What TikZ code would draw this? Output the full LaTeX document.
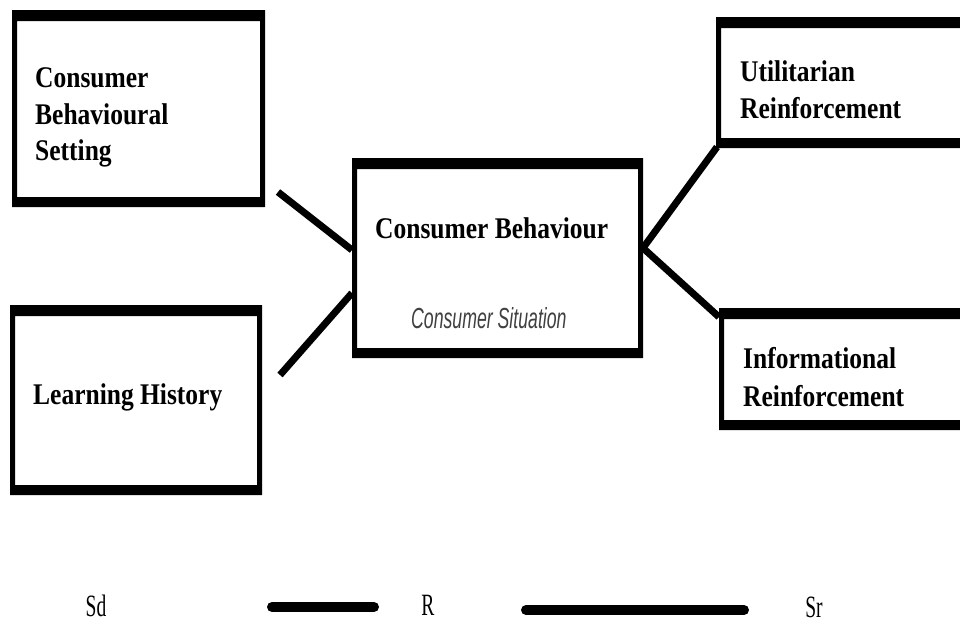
\documentclass[tikz,border=0pt]{standalone}
\usepackage{fontspec}
\setmainfont{Liberation Serif}
\newfontfamily\boldf[FakeStretch=0.85]{Liberation Serif}
\newfontfamily\sitf[FakeStretch=0.61]{Liberation Sans}
\newfontfamily\condf[FakeStretch=0.63]{Liberation Serif}
\definecolor{sitgray}{HTML}{404040}
\tikzset{
  box/.style={inner sep=0pt, outer sep=0pt},
  lbl/.style={inner sep=0pt, anchor=base west, font=\boldf\bfseries\fontsize{30}{36}\selectfont, align=left},
  conn/.style={line width=7pt},
  barline/.style={line width=10pt, line cap=round},
  small/.style={inner sep=0pt, anchor=base, text depth=0pt, font=\condf\fontsize{31}{33}\selectfont}
}
\begin{document}
\begin{tikzpicture}[x=1pt,y=-1pt]
\useasboundingbox (0,0) rectangle (960,622);
\clip (0,0) rectangle (960,622);
\fill[white] (0,0) rectangle (960,622);
% boxes
\node[box, minimum width=253pt, minimum height=197pt] (cbs) at (138.5,108.5) {};
\node[box, minimum width=252pt, minimum height=190pt] (lh) at (136,400) {};
\node[box, minimum width=291pt, minimum height=200pt] (cb) at (497.5,258) {};
\node[box, minimum width=290pt, minimum height=131pt] (ur) at (861,82.5) {};
\node[box, minimum width=290pt, minimum height=122pt] (ir) at (864,369) {};
\foreach \n in {cbs,lh,cb,ur,ir}
  \fill[black, even odd rule] (\n.north west) rectangle (\n.south east)
     ([xshift=5pt,yshift=-11pt]\n.north west) rectangle ([xshift=-5pt,yshift=10pt]\n.south east);
% labels
\node[lbl] (cbs1) at (35,87) {Consumer};
\node[lbl] (cbs2) at (35,124) {Behavioural};
\node[lbl] (cbs3) at (35,160) {Setting};
\node[lbl] (lht) at (33,404) {Learning History};
\node[lbl] (cbt) at (375,238) {Consumer Behaviour};
\node[inner sep=0pt, anchor=base west, text=sitgray, font=\sitf\itshape\fontsize{29}{32}\selectfont] (cst) at (411,328) {Consumer Situation};
\node[lbl] (ur1) at (740,81) {Utilitarian};
\node[lbl] (ur2) at (740,118) {Reinforcement};
\node[lbl] (ir1) at (743,368) {Informational};
\node[lbl] (ir2) at (743,406) {Reinforcement};
% connectors
\draw[conn] ([xshift=13pt,yshift=15pt]cbs.south east) -- ([yshift=8pt]cb.west);
\draw[conn] ([xshift=18pt,yshift=-70pt]lh.north east) -- ([yshift=-35pt]cb.west);
\draw[conn] ([yshift=10pt]cb.east) -- ([xshift=1pt,yshift=1pt]ur.south west);
\draw[conn] ([yshift=10pt]cb.east) -- ([yshift=-9pt]ir.north west);
% bottom
\node[small] (sd) at (96,616) {Sd};
\node[small] (r) at (428,615) {R};
\node[small] (sr) at (814,617) {Sr};
\coordinate (l1a) at (272,607);
\coordinate (l1b) at (374,607);
\coordinate (l2a) at (526,610);
\coordinate (l2b) at (744,610);
\draw[barline] (l1a) -- (l1b);
\draw[barline] (l2a) -- (l2b);
\end{tikzpicture}
\end{document}
